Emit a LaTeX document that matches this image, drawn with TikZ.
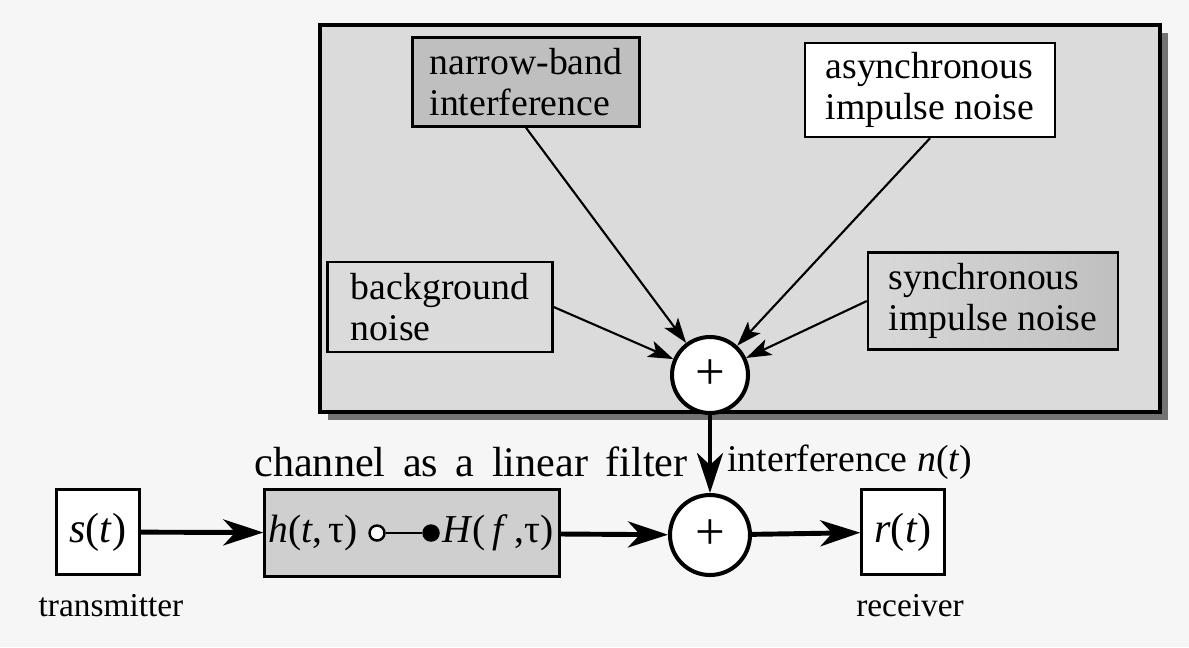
\documentclass[tikz,border=0pt]{standalone}
\usepackage{fontspec}
\setmainfont{Liberation Serif}
\usetikzlibrary{arrows.meta}

\definecolor{paper}{gray}{0.965}
\definecolor{panel}{gray}{0.86}
\definecolor{darkfill}{gray}{0.75}
\definecolor{chanfill}{gray}{0.81}

\newcommand{\ital}[1]{\textit{#1}}
\newcommand{\widewords}{\spaceskip=10pt\relax}

\begin{document}
\begin{tikzpicture}[x=0.02cm, y=-0.02cm,
    every node/.style={font=\fontsize{21.5}{23}\selectfont},
    box/.style={draw, line width=1.4pt, align=left, inner sep=0pt},
    sum/.style={circle, draw, line width=2.3pt, fill=white, inner sep=0pt,
                font=\fontsize{30}{30}\selectfont},
    dot/.style={circle, draw, line width=1.4pt, inner sep=0pt, minimum size=0.3cm},
    feed/.style={-{Stealth[length=0.5cm, width=0.34cm, inset=0.12cm]}, line width=1.2pt},
    sig/.style={-{Stealth[length=0.8cm, width=0.52cm, inset=0.24cm]}, line width=2.8pt},
    sym/.style={font=\fontsize{24}{26}\selectfont}]

    % page and interference panel
    \fill[paper] (0, 0) rectangle (1189, 647);
    \fill[black!55] (328, 33) rectangle (1168, 420);
    \draw[fill=panel, line width=1.8pt] (320, 25) rectangle (1160, 412);

    % noise sources
    \node[box, fill=darkfill, minimum width=4.54cm, minimum height=1.78cm] (nb) at (526, 82) {narrow-band\\interference};
    \node[box, fill=white, minimum width=5cm, minimum height=1.88cm] (async) at (930, 90) {asynchronous\\impulse noise};
    \node[box, minimum width=4.5cm, minimum height=1.8cm] (bg) at (440, 307) {background\\noise};
    \node[box, left color=gray!30, middle color=white, right color=gray!50,
          minimum width=5cm, minimum height=1.94cm] (sync) at (993, 301) {synchronous\\impulse noise};
    \node[sum, minimum size=1.52cm] (add1) at (710, 375) {+};

    % transmission chain
    \node[box, sym, fill=white, minimum width=1.66cm, minimum height=1.7cm] (src) at (98, 532) {\ital{s}(\ital{t})};
    \node[box, fill=chanfill, minimum width=5.9cm, minimum height=1.74cm] (chan) at (412, 533) {};
    \node[sum, minimum size=1.6cm] (add2) at (710, 535) {+};
    \node[box, sym, fill=white, minimum width=1.66cm, minimum height=1.7cm] (rcv) at (903, 532) {\ital{r}(\ital{t})};

    % inside the channel
    \node[anchor=west, inner sep=0pt, font=\fontsize{22.5}{24}\selectfont] (ht) at (268, 533) {\ital{h}(\ital{t},\,τ)};
    \node[dot, fill=white] (oc) at (377, 533) {};
    \node[dot, fill=black] (fc) at (431, 533) {};
    \node[anchor=west, inner sep=0pt, font=\fontsize{22.5}{24}\selectfont] (Hf) at (442, 533) {\ital{H}(\,\ital{f}\,,τ)};
    \draw[line width=1.2pt] (oc) -- (fc);

    % labels
    \node[font=\fontsize{24}{26}\selectfont\widewords] (chanlbl) at (471, 462) {channel as a linear filter};
    \node[anchor=west, inner sep=0pt] (nlbl) at (727, 462) {interference \ital{n}(\ital{t})};
    \node[font=\fontsize{19}{21}\selectfont] (txlbl) at (111, 606) {transmitter};
    \node[font=\fontsize{19}{21}\selectfont] (rxlbl) at (910, 606) {receiver};

    \draw[feed] (nb.south) -- (add1);
    \draw[feed] (async.south) -- (add1);
    \draw[feed] (bg.east) -- (add1);
    \draw[feed] (sync.west) -- (add1);

    \draw[sig] (add1) -- (add2);
    \draw[sig] (src) -- (chan);
    \draw[sig] (chan) -- (add2);
    \draw[sig] (add2) -- (rcv);
\end{tikzpicture}
\end{document}
